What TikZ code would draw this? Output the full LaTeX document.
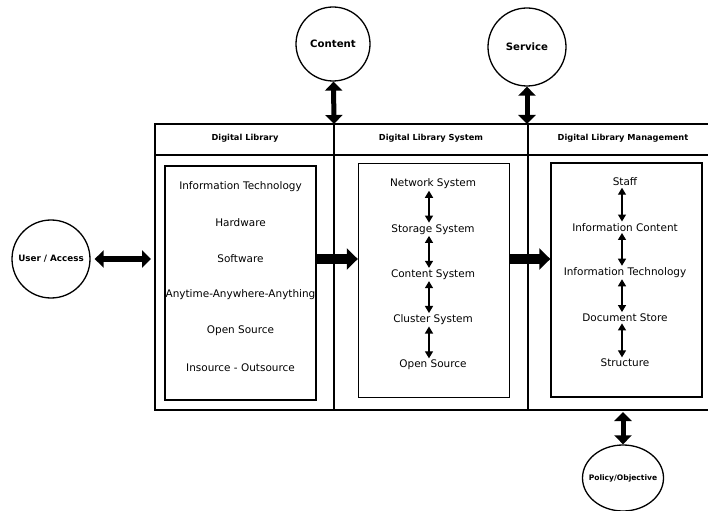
\documentclass[tikz,border=0pt]{standalone}
\usepackage{fontspec}
\setmainfont{DejaVu Sans}
\usetikzlibrary{arrows.meta,shapes.geometric}

\begin{document}
\begin{tikzpicture}[x=1bp,y=-1bp,
    bubble/.style={circle,draw,line width=1.3bp,minimum size=74bp,inner sep=0pt,font=\bfseries\fontsize{10.2}{12}\selectfont},
    head/.style={font=\bfseries\fontsize{8.3}{10}\selectfont},
    item/.style={font=\fontsize{10.5}{12}\selectfont,inner sep=1.5bp},
    inbox/.style={draw,line width=1.4bp,minimum width=151bp,minimum height=234bp},
    twoway/.style={line width=5bp,{Triangle[width=17bp,length=9bp]}-{Triangle[width=17bp,length=9bp]}},
    oneway/.style={line width=9bp,-{Triangle[width=21bp,length=11bp]}},
    smallway/.style={line width=1.2bp,{Triangle[width=8bp,length=7bp]}-{Triangle[width=8bp,length=7bp]}}]
\useasboundingbox (0,0) rectangle (708,511);
% frame with three columns
\draw[line width=2bp] (708,124) -- (155,124) -- (155,410) -- (708,410);
\draw[line width=1.5bp] (155,155) -- (708,155) (334,124) -- (334,410) (528,124) -- (528,410);
\coordinate (ctop) at (334,124); \coordinate (stop) at (527,124); \coordinate (pbot) at (623,412); \coordinate (fleft) at (155,259);
\node[head] (dlhead) at (245,138) {Digital Library};
\node[head] (dlshead) at (431,138) {Digital Library System};
\node[head] (dlmhead) at (623,138) {Digital Library Management};
% outside circles
\node[bubble] (content) at (333,44) {Content};
\node[bubble,minimum size=78bp] (service) at (527,47) {Service};
\node[bubble,minimum size=78bp,font=\bfseries\fontsize{8.8}{10}\selectfont] (user) at (51,259) {User / Access};
\node[ellipse,draw,line width=1.3bp,inner sep=0pt,minimum width=81bp,minimum height=66bp] (policy) at (623,478) {};
\node[font=\bfseries\fontsize{7.6}{9}\selectfont,inner sep=0pt] (policytext) at (policy) {Policy/Objective};
\draw[twoway] (content) -- (ctop); \draw[twoway] (service) -- (stop); \draw[twoway] (pbot) -- (policy);
\draw[twoway,shorten <=4bp,shorten >=4bp] (user) -- (fleft);
% inner boxes
\node[inbox] (dlbox) at (240.5,283) {};
\node[inbox] (dlsbox) at (434,280.5) {};
\node[inbox] (dlmbox) at (626.5,280) {};
\draw[oneway] (dlbox.east |- fleft) -- (dlsbox.west |- fleft);
\draw[oneway] (dlsbox.east |- fleft) -- (dlmbox.west |- fleft);
\foreach \t [count=\i] in {Information Technology,Hardware,Software,Anytime-Anywhere-Anything,Open Source,Insource - Outsource}
    \node[item] (dl\i) at (240.5,150+36.2*\i) {\t};
\foreach \t [count=\i] in {Network System,Storage System,Content System,Cluster System,Open Source}
    \node[item] (dls\i) at (433,138.75+45.25*\i) {\t};
\foreach \t [count=\i] in {Staff,Information Content,Information Technology,Document Store,Structure}
    \node[item] (dlm\i) at (625,136.75+45.25*\i) {\t};
\foreach \i/\j in {1/2,2/3,3/4,4/5} {
    \draw[smallway] ([xshift=-4bp]dls\i.south) -- ([xshift=-4bp]dls\j.north);
    \draw[smallway] ([xshift=-3bp]dlm\i.south) -- ([xshift=-3bp]dlm\j.north);
}
\end{tikzpicture}
\end{document}
